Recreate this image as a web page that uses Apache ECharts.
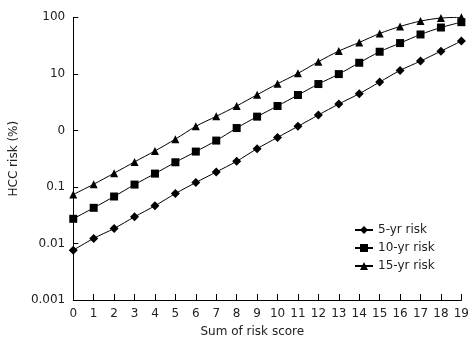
<!DOCTYPE html>
<html>
<head>
<meta charset="utf-8">
<script src="https://cdn.jsdelivr.net/npm/echarts@6/dist/echarts.min.js"></script>
<style>html,body{margin:0;padding:0;background:#fff}#c{width:472px;height:348px}</style>
</head>
<body>
<div id="c"></div>
<script>
var xCategories = ['0','1','2','3','4','5','6','7','8','9','10','11','12','13','14','15','16','17','18','19'];
var risk5 = [0.0076,0.0123,0.0184,0.0296,0.0464,0.0764,0.1196,0.184,0.284,0.475,0.75,1.18,1.87,2.93,4.45,7.16,11.5,16.8,25.2,38.0];
var risk10 = [0.0273,0.0427,0.0677,0.110,0.172,0.273,0.422,0.66,1.10,1.75,2.70,4.22,6.6,9.9,15.7,24.6,35,49.7,66,82];
var risk15 = [0.0734,0.1116,0.175,0.277,0.433,0.70,1.18,1.77,2.70,4.27,6.68,10.2,16.4,25.3,35.9,51.7,68.8,85.7,97,100];
var yTickLabels = ['0.001','0.01','0.1','0','10','100'];
var seriesNames = ['5-yr risk','10-yr risk','15-yr risk'];

var font = 'DejaVu Sans';
var chart = echarts.init(document.getElementById('c'), null, {renderer:'canvas'});
function mk(name, data, symbol, size) {
  return {
    name: name, type: 'line', data: data, smooth: 0.3,
    symbol: symbol, symbolSize: size,
    lineStyle: {color: '#000', width: 1},
    itemStyle: {color: '#000'},
    animation: false
  };
}
chart.setOption({
  animation: false,
  grid: {left: 49.5, right: 9, top: 17.3, bottom: 48, containLabel: false},
  legend: {
    orient: 'vertical', left: 349, top: 219,
    itemWidth: 18, itemHeight: 10, itemGap: 6,
    textStyle: {fontFamily: font, fontSize: 12, color: '#222', padding: [0,0,0,0]},
    data: seriesNames
  },
  xAxis: {
    type: 'category', data: xCategories, boundaryGap: false,
    name: 'Sum of risk score', nameLocation: 'middle', nameGap: 26,
    nameTextStyle: {fontFamily: font, fontSize: 12, color: '#222', padding: [0, 30, 0, 0]},
    axisLine: {lineStyle: {color: '#000', width: 1}},
    axisTick: {inside: true, length: 6, lineStyle: {color: '#000'}, alignWithLabel: true},
    axisLabel: {fontFamily: font, fontSize: 12, color: '#222', margin: 8, interval: 0},
    splitLine: {show: false}
  },
  yAxis: {
    type: 'log', logBase: 10, min: 0.001, max: 100,
    name: 'HCC risk (%)', nameLocation: 'middle', nameGap: 35,
    nameTextStyle: {fontFamily: font, fontSize: 12, color: '#222'},
    axisLine: {show: true, lineStyle: {color: '#000', width: 1}},
    axisTick: {show: true, inside: true, length: 5, lineStyle: {color: '#000'}},
    axisLabel: {fontFamily: font, fontSize: 12, color: '#222', margin: 8,
      formatter: function (v) { var i = Math.round(Math.log10(v)) + 3; return yTickLabels[i] !== undefined ? yTickLabels[i] : ''; }},
    splitLine: {show: false}
  },
  series: [
    mk(seriesNames[0], risk5, 'diamond', 9),
    mk(seriesNames[1], risk10, 'rect', 8),
    mk(seriesNames[2], risk15, 'triangle', 8)
  ]
});
</script>
</body>
</html>
